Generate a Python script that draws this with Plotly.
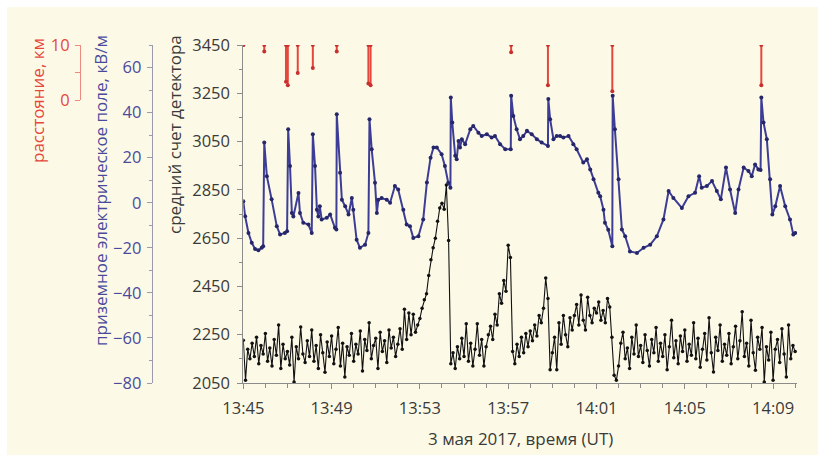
import plotly.graph_objects as go
import pandas as pd

# ---------------- data ----------------
# electric field (kV/m); time in seconds after 13:45:00 UT
field_sec = [0, 5, 14, 23, 32, 41, 50, 54, 57, 64, 77, 91, 100, 113, 119, 122, 127, 132, 136, 150,
             154, 163, 177, 186, 189, 195, 200, 204, 208, 213, 227, 236, 249, 253, 254, 263, 268, 277, 286, 295,
             299, 308, 317, 331, 340, 343, 349, 358, 363, 367, 376, 390, 399, 412, 421, 435, 444, 453, 462, 476,
             489, 499, 509, 517, 526, 539, 548, 557, 563, 564, 568, 576, 580, 585, 589, 594, 603, 617, 625, 639,
             648, 662, 675, 684, 698, 712, 727, 728, 734, 743, 752, 761, 771, 784, 798, 811, 828, 829, 834, 843,
             852, 861, 870, 884, 897, 906, 924, 934, 943, 952, 965, 970, 979, 983, 992, 1003, 1004, 1010, 1020, 1029,
             1038, 1051, 1070, 1088, 1106, 1124, 1142, 1156, 1169, 1192, 1210, 1228, 1239, 1246, 1260, 1274, 1287, 1298, 1312, 1323,
             1337, 1346, 1360, 1373, 1382, 1391, 1400, 1406, 1408, 1414, 1423, 1432, 1438, 1446, 1459, 1473, 1486, 1495, 1500]
field_kv = [0.7, -6, -13.4, -17.8, -20.5, -21.1, -20, -19.3, 26.7, 11.8, 1.5, -10.4, -14.1, -13.4, -12.7, 32.6, 16.3, -4.6, -6.1, 4.3,
            -4.6, -8.9, -9.7, -13.4, 30.4, 16.3, -3.1, -6.1, -1.6, -7.4, -6.7, -5.2, -11.1, -11.9, 39.3, 13.3, 1.3, -1.6, -5.2, 2.1,
            -3.1, -16.4, -20.0, -18.6, -13.4, 37.1, 23.7, 8.9, -4.6, 1.3, 2.1, 1.3, 0, 7.4, 5.9, -3.1, -9.7, -10.4, -15.6, -14.9,
            -7.4, 9, 20, 24.5, 24.5, 21.5, 16.3, 8.9, 6.7, 46.7, 35.6, 20.8, 19.3, 27.4, 24.5, 28.2, 26, 32.6, 34.1, 31.1,
            29.6, 30.4, 28.9, 29.6, 26, 23.7, 23.7, 47.5, 38.5, 32.6, 28.2, 29.6, 31.9, 30.4, 28.2, 26.7, 25.2, 46, 37.1, 28.2,
            29.6, 29.6, 28.9, 29.6, 26, 23.7, 17.8, 19.3, 14.8, 10.4, 4.4, 2.9, -3.1, -8.9, -12, -19.3, 47.5, 32.6, 10.4, -11.9,
            -14.9, -21.6, -22.3, -20, -18.6, -14.9, -7.4, 5.2, 2.1, -2.3, 2.9, 4.4, 11.8, 6.7, 7.4, 9.6, 5.2, 1.5, 15.6, 5.9,
            -4.6, 5.9, 15.6, 14.1, 11.8, 17, 14.8, 14.5, 46.7, 35.6, 28.2, 10.4, -5.2, -1.6, 7.4, -1.6, -7.4, -14.1, -13.4]

# detector mean count, one value every 6 s from 13:45:00
count_step_sec = 6
counts = [
    2227, 2061, 2190, 2150, 2215, 2160, 2240, 2130, 2205, 2170,
    2255, 2140, 2195, 2120, 2230, 2165, 2290, 2110, 2210, 2150,
    2180, 2125, 2240, 2054, 2200, 2150, 2282, 2170, 2135, 2225,
    2160, 2270, 2140, 2205, 2110, 2250, 2175, 2095, 2220, 2160,
    2245, 2130, 2190, 2280, 2120, 2215, 2075, 2200, 2165, 2255,
    2140, 2210, 2170, 2265, 2100, 2230, 2185, 2300, 2150, 2205,
    2235, 2110, 2260, 2180, 2225, 2135, 2270, 2195, 2240, 2160,
    2210, 2275, 2190, 2355, 2230, 2340, 2250, 2335, 2260, 2290,
    2317, 2360, 2395, 2420, 2495, 2560, 2610, 2650, 2720, 2775,
    2795, 2770, 2870, 2640, 2130, 2175, 2110, 2200, 2150, 2235,
    2160, 2295, 2140, 2215, 2120, 2190, 2295, 2165, 2230, 2120,
    2200, 2250, 2285, 2230, 2335, 2290, 2420, 2380, 2475, 2430,
    2621, 2570, 2180, 2130, 2210, 2160, 2240, 2175, 2255, 2200,
    2265, 2225, 2290, 2245, 2330, 2300, 2360, 2485, 2400, 2105,
    2175, 2240, 2105, 2300, 2210, 2330, 2250, 2200, 2320, 2270,
    2330, 2375, 2290, 2415, 2310, 2270, 2405, 2330, 2300, 2360,
    2340, 2385, 2310, 2350, 2300, 2400, 2365, 2240, 2082, 2061,
    2120, 2215, 2260, 2150, 2195, 2110, 2240, 2170, 2290, 2160,
    2205, 2135, 2250, 2185, 2120, 2230, 2175, 2280, 2140, 2215,
    2160, 2250, 2105, 2200, 2310, 2155, 2225, 2130, 2245, 2180,
    2270, 2140, 2210, 2165, 2300, 2150, 2235, 2115, 2190, 2255,
    2145, 2320, 2175, 2096, 2240, 2185, 2290, 2140, 2210, 2165,
    2255, 2130, 2200, 2285, 2150, 2225, 2345, 2160, 2215, 2120,
    2310, 2175, 2103, 2240, 2190, 2280, 2054, 2200, 2145, 2260,
    2061, 2190, 2230, 2135, 2275, 2170, 2075, 2290, 2150, 2205,
    2180,
]

# lightning distance (km): each flash drawn from far to near value
flash_sec = [0, 57, 116, 121, 148, 189, 254, 340, 346, 728, 828, 1003, 1408]
flash_far_km = [10, 10, 10, 10, 10, 10, 10, 10, 10, 10, 10, 10, 10]
flash_near_km = [10, 8.8, 3.3, 2.7, 4.9, 5.8, 8.8, 3.0, 2.7, 8.7, 2.7, 1.6, 2.7]

count_ticks = [2050, 2250, 2450, 2650, 2850, 3050, 3250, 3450]
field_ticks = [-80, -60, -40, -20, 0, 20, 40, 60]
dist_ticks = [0, 10]

# ---------------- build ----------------
base = pd.Timestamp("2017-05-03 13:45:00")
t_field = [base + pd.Timedelta(seconds=s) for s in field_sec]
t_count = [base + pd.Timedelta(seconds=i * count_step_sec) for i in range(len(counts))]
fx, fy = [], []
for s, a, b in zip(flash_sec, flash_far_km, flash_near_km):
    t = base + pd.Timedelta(seconds=s)
    fx += [t, t, None]
    fy += [a, b, None]

CREAM = "#fcfae7"
RED = "#e5473d"
BLUE = "#4a4a9c"
DARK = "#3a3a3a"
GRID = "#8c8c8c"
FONT = "Open Sans"

fig = go.Figure()
fig.add_trace(go.Scatter(x=t_count, y=counts, mode="lines+markers", yaxis="y",
                         line=dict(color="#111111", width=1.1),
                         marker=dict(color="#111111", size=3.5)))
fig.add_trace(go.Scatter(x=t_field, y=field_kv, mode="lines+markers", yaxis="y2",
                         line=dict(color="#3d3d96", width=2.0),
                         marker=dict(color="#26266a", size=4)))
fig.add_trace(go.Scatter(x=fx, y=fy, mode="lines+markers", yaxis="y3",
                         line=dict(color=RED, width=2),
                         marker=dict(color="#c83030", size=4), connectgaps=False))

W, H = 825, 462
ml, mr, mt, mb = 0, 28, 45, 79
pw, ph = W - ml - mr, H - mt - mb


def px(x):
    return (x - ml) / pw


def py(y):
    return (H - mb - y) / ph


fig.update_layout(
    width=W, height=H,
    margin=dict(l=ml, r=mr, t=mt, b=mb, autoexpand=False),
    paper_bgcolor="white", plot_bgcolor="rgba(0,0,0,0)",
    showlegend=False,
    font=dict(family=FONT, size=17, color=DARK),
    xaxis=dict(
        domain=[px(243.3), 1], type="date", automargin=False,
        range=[base, base + pd.Timedelta(seconds=1505)],
        tickformat="%H:%M", tick0=base, dtick=240000,
        ticks="outside", ticklen=5, tickcolor=GRID, tickwidth=1,
        minor=dict(dtick=60000, tick0=base, ticks="outside", ticklen=4, tickcolor=GRID),
        showline=True, linecolor=GRID, linewidth=1, showgrid=False, zeroline=False,
        tickfont=dict(size=16.5, color=DARK), ticklabelstandoff=5,
    ),
    yaxis=dict(
        range=[2050, 3450], tickvals=count_ticks, ticks="outside", ticklen=5, automargin=False,
        tickcolor=GRID, showline=True, linecolor=GRID, showgrid=False, zeroline=False,
        minor=dict(dtick=100, tick0=2050, ticks="outside", ticklen=3, tickcolor=GRID),
        tickfont=dict(size=16.5, color=DARK), ticklabelstandoff=4,
    ),
    yaxis2=dict(
        overlaying="y", anchor="free", position=px(151.7), side="left", automargin=False,
        range=[-80, 70], tickvals=field_ticks, ticks="outside", ticklen=5,
        tickcolor="#9a9ab0", showline=True, linecolor="#9a9ab0", showgrid=False, zeroline=False,
        minor=dict(dtick=10, tick0=-80, ticks="outside", ticklen=3, tickcolor="#9a9ab0"),
        tickfont=dict(size=16.5, color=BLUE), ticklabelstandoff=2,
    ),
    yaxis3=dict(
        domain=[py(100), py(45)], anchor="free", position=px(80), side="left", automargin=False,
        range=[0, 10], tickvals=dist_ticks, ticks="outside", ticklen=5,
        tickcolor="#eb8a80", showline=True, linecolor="#eb8a80", showgrid=False, zeroline=False,
        minor=dict(tickvals=[5], ticks="outside", ticklen=5, tickcolor="#eb8a80"),
        tickfont=dict(size=16.5, color=RED), ticklabelstandoff=2,
    ),
    shapes=[dict(type="rect", xref="paper", yref="paper", layer="below",
                 x0=px(7), x1=px(818), y0=py(455), y1=py(7),
                 fillcolor=CREAM, line=dict(width=0))],
    annotations=[
        dict(text="расстояние, км", xref="paper", yref="paper", x=px(38), y=py(101),
             textangle=-90, showarrow=False, font=dict(size=17, color=RED),
             xanchor="center", yanchor="middle"),
        dict(text="приземное электрическое поле, кВ/м", xref="paper", yref="paper",
             x=px(100), y=py(191), textangle=-90, showarrow=False,
             font=dict(size=17, color=BLUE), xanchor="center", yanchor="middle"),
        dict(text="средний счет детектора", xref="paper", yref="paper",
             x=px(174), y=py(135), textangle=-90, showarrow=False,
             font=dict(size=17, color=DARK), xanchor="center", yanchor="middle"),
        dict(text="3 мая 2017, время (UT)", xref="paper", yref="paper",
             x=px(520), y=py(438), showarrow=False,
             font=dict(size=17, color=DARK), xanchor="center", yanchor="middle"),
    ],
)

fig.write_html("out.html")
